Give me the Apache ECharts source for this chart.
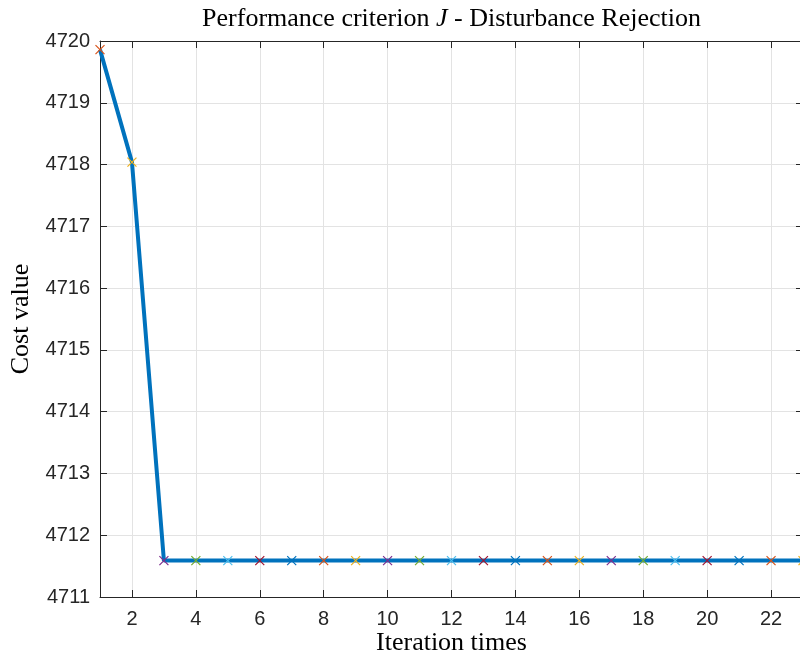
<!DOCTYPE html>
<html>
<head>
<meta charset="utf-8">
<script src="https://cdn.jsdelivr.net/npm/echarts@6/dist/echarts.min.js"></script>
<style>
  html, body { margin: 0; padding: 0; background: #ffffff; }
  #chart { width: 800px; height: 658px; }
</style>
</head>
<body>
<div id="chart"></div>
<script>
// Iteration index and the cost J recorded at each iteration
const iterations = [1, 2, 3, 4, 5, 6, 7, 8, 9, 10, 11, 12, 13, 14, 15, 16, 17, 18, 19, 20, 21, 22, 23];
const costValues = [4719.86, 4718.04, 4711.59, 4711.59, 4711.59, 4711.59, 4711.59, 4711.59,
  4711.59, 4711.59, 4711.59, 4711.59, 4711.59, 4711.59, 4711.59, 4711.59, 4711.59,
  4711.59, 4711.59, 4711.59, 4711.59, 4711.59, 4711.59];
const yRange = [4711, 4720];

// marker colours cycle through the plotting palette
const markerPalette = ['#D95319', '#EDB120', '#7E2F8E', '#77AC30', '#4DBEEE', '#A2142F', '#0072BD'];

const axisColor = '#262626';
const gridColor = '#e3e3e3';
const serif = '"Liberation Serif", "DejaVu Serif", serif';
const sans = '"Liberation Sans", Arial, Helvetica, sans-serif';

const points = iterations.map((it, i) => ({
  value: [it, costValues[i]],
  itemStyle: { borderColor: markerPalette[i % markerPalette.length] }
}));

const chart = echarts.init(document.getElementById('chart'), null, { renderer: 'canvas' });

const common = {
  axisLine: { show: true, onZero: false, lineStyle: { color: axisColor, width: 1 } },
  axisTick: { show: true, inside: true, length: 7, lineStyle: { color: axisColor, width: 1 } }
};

chart.setOption({
  animation: false,
  backgroundColor: '#ffffff',
  grid: { left: 100, top: 41, right: -3, bottom: 61, containLabel: false, outerBoundsMode: 'none' },
  graphic: [{
    // title
    type: 'text',
    x: 451.5,
    y: 19,
    style: {
      text: '{n|Performance criterion }{i|J}{n| - Disturbance Rejection}',
      align: 'center',
      verticalAlign: 'middle',
      rich: {
        n: { fontFamily: serif, fontSize: 26, fill: '#000000' },
        i: { fontFamily: serif, fontSize: 26, fontStyle: 'italic', fill: '#000000' }
      }
    }
  }, {
    // x-axis label
    type: 'text',
    x: 451.5,
    y: 643,
    style: {
      text: 'Iteration times',
      align: 'center',
      verticalAlign: 'middle',
      fontFamily: serif,
      fontSize: 26,
      fill: '#000000'
    }
  }],
  xAxis: [{
    type: 'value',
    min: iterations[0],
    max: iterations[iterations.length - 1],
    splitNumber: 11,
    position: 'bottom',
    ...common,
    axisLabel: {
      show: true, margin: 12, fontFamily: sans, fontSize: 20, color: axisColor,
      showMinLabel: false, showMaxLabel: false
    },
    splitLine: { show: true, lineStyle: { color: gridColor, width: 1 } }
  }, {
    type: 'value',
    min: iterations[0],
    max: iterations[iterations.length - 1],
    splitNumber: 11,
    position: 'top',
    ...common,
    axisLabel: { show: false },
    splitLine: { show: false }
  }],
  yAxis: [{
    type: 'value',
    min: yRange[0],
    max: yRange[1],
    interval: 1,
    position: 'left',
    name: 'Cost value',
    nameLocation: 'middle',
    nameGap: 62,
    nameTextStyle: { fontFamily: serif, fontSize: 26, color: '#000000' },
    ...common,
    axisLabel: {
      show: true, margin: 10, fontFamily: sans, fontSize: 20, color: axisColor,
      formatter: (v) => String(v)
    },
    splitLine: { show: true, lineStyle: { color: gridColor, width: 1 } }
  }, {
    type: 'value',
    min: yRange[0],
    max: yRange[1],
    interval: 1,
    position: 'right',
    ...common,
    axisLabel: { show: false },
    splitLine: { show: false }
  }],
  series: [{
    type: 'line',
    xAxisIndex: 0,
    yAxisIndex: 0,
    data: points,
    showAllSymbol: true,
    symbol: 'path://M0,0L10,10M10,0L0,10',
    symbolSize: 9,
    lineStyle: { color: '#0072BD', width: 4 },
    itemStyle: { color: 'rgba(0,0,0,0)', borderWidth: 1.2 },
    emphasis: { disabled: true },
    clip: false
  }]
});
</script>
</body>
</html>
